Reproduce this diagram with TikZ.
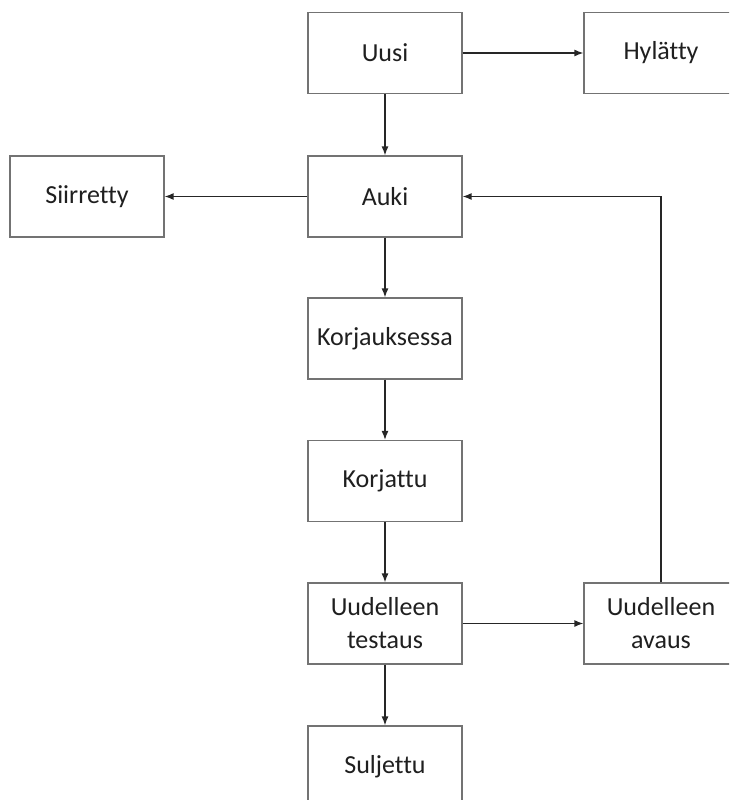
\documentclass[tikz,border=0pt]{standalone}
\usepackage{fontspec}
\setmainfont{Carlito}[RawFeature={-liga;-calt;-dlig}]
\usetikzlibrary{arrows.meta}
\begin{document}
\begin{tikzpicture}[x=1pt,y=-1pt,
  state/.style={draw=black!55, line width=1.2pt, fill=white, rectangle,
    minimum width=154pt, minimum height=81pt, inner sep=0pt,
    align=center, font=\fontsize{26}{33}\selectfont, text=black!88},
  flow/.style={draw=black!85, line width=1.3pt, -{Latex[length=9pt,width=7pt]}}]
\useasboundingbox (0,0) rectangle (729,800);
\clip (0,0) rectangle (729,800);
\node[state] (uusi) at (385,53) {Uusi};
\node[state] (hyl) at (661,53) {Hylätty};
\node[state] (siir) at (87,196.5) {Siirretty};
\node[state] (auki) at (385,196.5) {Auki};
\node[state] (korjs) at (385,338.5) {Korjauksessa};
\node[state] (korj) at (385,481) {Korjattu};
\node[state] (test) at (385,623.5) {Uudelleen\\testaus};
\node[state] (avaus) at (661,623.5) {Uudelleen\\avaus};
\node[state] (sulj) at (385,766.5) {Suljettu};
\draw[flow] (uusi) -- (hyl);
\draw[flow] (uusi) -- (auki);
\draw[flow] (auki) -- (siir);
\draw[flow] (auki) -- (korjs);
\draw[flow] (korjs) -- (korj);
\draw[flow] (korj) -- (test);
\draw[flow] (test) -- (sulj);
\draw[flow] (test) -- (avaus);
\draw[flow] (avaus.north) |- (auki.east);
\end{tikzpicture}
\end{document}
